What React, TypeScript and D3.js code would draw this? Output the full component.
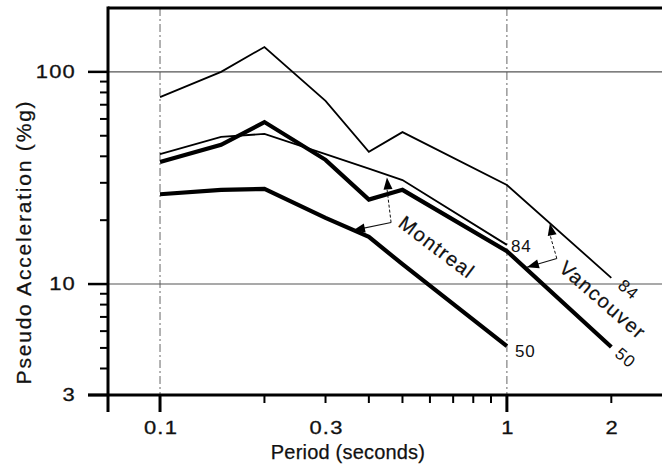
import React from 'react';
import * as d3 from 'd3';

// period (s) at which the spectra were sampled
const periods = [0.1, 0.15, 0.2, 0.3, 0.4, 0.5, 1.0, 2.0];
// pseudo acceleration (%g)
const vancouver84 = [76, 100, 131, 73, 42, 52, 29.3, 10.7];
const vancouver50 = [37.6, 45.3, 58, 38.5, 25, 27.8, 14.3, 5.05];
const montreal84 = [41, 49.4, 51, 41, 35, 30.9, 15.3];
const montreal50 = [26.5, 27.8, 28.1, 20.5, 16.7, 12.4, 5.1];

const xTickLabels = ['0.1', '0.3', '1', '2'];
const xMajorTicks = [0.1, 1];
const xMinorTicks = [0.2, 0.3, 0.4, 0.5, 0.6, 0.7, 0.8, 0.9, 2];
const yTickLabels = ['3', '10', '100'];
const yMinorTicks = [4, 5, 6, 7, 8, 9, 20, 30, 40, 50, 60, 70, 80, 90];
const xGrid = [0.1, 1];
const yGrid = [10, 100];

const FONT = '"Liberation Sans", Arial, Helvetica, sans-serif';

const W = 662;
const H = 472;
const left = 108, right = 662, top = 8, bottom = 395;

const x = d3.scaleLog().domain([0.0708, 2.8]).range([left, right]);
const y = d3.scaleLog().domain([3, 200]).range([bottom, top]);

type Pt = [number, number];

// arrow head polygon, tip at `tip`, coming from `from`
function head(tip: Pt, from: Pt, len = 12, half = 4.5) {
  const dx = tip[0] - from[0], dy = tip[1] - from[1];
  const d = Math.hypot(dx, dy);
  const ux = dx / d, uy = dy / d;
  const bx = tip[0] - ux * len, by = tip[1] - uy * len;
  return `${tip[0]},${tip[1]} ${bx - uy * half},${by + ux * half} ${bx + uy * half},${by - ux * half}`;
}

const P = (p: number, a: number): Pt => [x(p), y(a)];

const Bracket = ({ up, corner, side }: { up: Pt; corner: Pt; side: Pt }) => {
  const u = P(up[0], up[1]);
  const c = P(corner[0], corner[1]);
  const s = P(side[0], side[1]);
  return (
    <g>
      <line x1={c[0]} y1={c[1]} x2={u[0]} y2={u[1] + 11} stroke="#111" strokeWidth={1} strokeDasharray="3,2" />
      <line x1={c[0]} y1={c[1]} x2={s[0]} y2={s[1]} stroke="#111" strokeWidth={1.1} />
      <polygon points={head(u, c)} fill="#000" />
      <polygon points={head(s, c)} fill="#000" />
    </g>
  );
};

export default function App() {
  const line = d3.line<number>()
    .x((_, i) => x(periods[i]))
    .y(d => y(d));

  const series = [
    { values: vancouver84, width: 1.8 },
    { values: montreal84, width: 1.8 },
    { values: vancouver50, width: 4.2 },
    { values: montreal50, width: 4.2 },
  ];

  // scanned tick labels are wide and round, so stretch them a little
  const numStyle = { fontFamily: FONT, fontSize: 18, letterSpacing: 1, fill: '#111', stroke: '#111', strokeWidth: 0.3 } as const;
  const endStyle = { fontFamily: FONT, fontSize: 17, letterSpacing: 1, fill: '#111' } as const;
  const cityStyle = { fontFamily: FONT, fontSize: 20, letterSpacing: 1.5, fill: '#111', stroke: '#111', strokeWidth: 0.2 } as const;
  const titleStyle = { fontFamily: FONT, fill: '#111', stroke: '#111', strokeWidth: 0.25 } as const;

  return (
    <svg width={W} height={H} style={{ position: 'absolute', left: 0, top: 0, background: '#fff' }}>
      {/* gridlines */}
      {yGrid.map(v => (
        <line key={'gy' + v} x1={left} x2={right} y1={y(v)} y2={y(v)} stroke="#555" strokeWidth={1.1} />
      ))}
      {xGrid.map(v => (
        <line key={'gx' + v} x1={x(v)} x2={x(v)} y1={top} y2={bottom} stroke="#555" strokeWidth={0.9} strokeDasharray="8,3,2,3" />
      ))}

      {/* frame */}
      <line x1={left} x2={right} y1={top} y2={top} stroke="#000" strokeWidth={3} />
      <line x1={left} x2={left} y1={top - 1.5} y2={412} stroke="#000" strokeWidth={3} />
      <line x1={88} x2={right} y1={bottom} y2={bottom} stroke="#000" strokeWidth={3} />

      {/* y ticks */}
      {yTickLabels.map(t => (
        <g key={'yt' + t}>
          <line x1={88} x2={left} y1={y(+t)} y2={y(+t)} stroke="#000" strokeWidth={2.5} />
          <text transform={`translate(76,${y(+t)}) scale(1.22,1)`} textAnchor="end" dominantBaseline="central" style={numStyle}>{t}</text>
        </g>
      ))}
      {yMinorTicks.map(t => (
        <line key={'ym' + t} x1={100} x2={left} y1={y(t)} y2={y(t)} stroke="#000" strokeWidth={2} />
      ))}

      {/* x ticks */}
      {xMajorTicks.map(t => (
        <line key={'xM' + t} x1={x(t)} x2={x(t)} y1={bottom} y2={412} stroke="#000" strokeWidth={3} />
      ))}
      {xMinorTicks.map(t => (
        <line key={'xm' + t} x1={x(t)} x2={x(t)} y1={bottom} y2={403} stroke="#000" strokeWidth={2} />
      ))}
      {xTickLabels.map(t => (
        <text key={'xl' + t} transform={`translate(${x(+t) + 1},434) scale(1.22,1)`} textAnchor="middle" style={numStyle}>{t}</text>
      ))}

      {/* axis titles */}
      <text x={348} y={459} textAnchor="middle" style={{ ...titleStyle, fontSize: 20, letterSpacing: 0.2 }}>
        Period (seconds)
      </text>
      <text transform={`translate(31,${242}) rotate(-90)`} textAnchor="middle"
        style={{ ...titleStyle, fontSize: 21, letterSpacing: 1.8 }}>
        Pseudo Acceleration (%g)
      </text>

      {/* spectra */}
      {series.map((s, i) => (
        <path key={'s' + i} d={line(s.values) || ''} fill="none" stroke="#000"
          strokeWidth={s.width} strokeLinejoin="miter" />
      ))}

      {/* annotation brackets */}
      <Bracket up={[0.451, 31.8]} corner={[0.4636, 19.5]} side={[0.36, 17.9]} />
      <Bracket up={[1.33, 19.3]} corner={[1.393, 13.2]} side={[1.142, 12.0]} />

      {/* end labels */}
      <text x={x(1) + 4} y={y(montreal84[6]) + 7} style={endStyle}>84</text>
      <text x={x(1) + 8} y={y(montreal50[6]) + 11} style={endStyle}>50</text>
      <text transform={`translate(${x(2) + 17},${y(vancouver84[7]) + 12}) rotate(40)`} textAnchor="middle"
        dominantBaseline="central" style={endStyle}>84</text>
      <text transform={`translate(${x(2) + 14},${y(vancouver50[7]) + 11}) rotate(40)`} textAnchor="middle"
        dominantBaseline="central" style={endStyle}>50</text>

      {/* city labels */}
      <text transform={`translate(${x(0.6286)},${y(14.9)}) rotate(37)`} textAnchor="middle"
        dominantBaseline="central" style={cityStyle}>Montreal</text>
      <text transform={`translate(${x(1.891)},${y(8.41)}) rotate(41)`} textAnchor="middle"
        dominantBaseline="central" style={cityStyle}>Vancouver</text>
    </svg>
  );
}
